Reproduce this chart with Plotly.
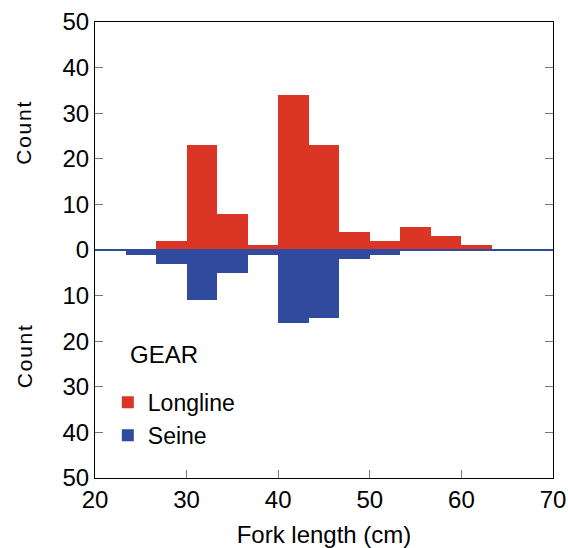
import plotly.graph_objects as go

bin_start = 70 / 3  # 23.33
bin_width = 10 / 3
longline = [0, 2, 23, 8, 1, 34, 23, 4, 2, 5, 3, 1]
seine = [1, 3, 11, 5, 1, 16, 15, 2, 1, 0, 0, 0]
centers = [bin_start + bin_width * (i + 0.5) for i in range(len(longline))]

y_ticks = [-50, -40, -30, -20, -10, 0, 10, 20, 30, 40, 50]
y_ticktext = [str(abs(v)) for v in y_ticks]
x_ticks = [20, 30, 40, 50, 60, 70]

RED = "#DB3625"
BLUE = "#304A9E"
FONT = "Liberation Sans, Arial, sans-serif"

fig = go.Figure()
fig.add_trace(go.Bar(x=centers, y=longline, width=bin_width, name="Longline",
                     marker=dict(color=RED, line=dict(width=0))))
fig.add_trace(go.Bar(x=centers, y=[-v for v in seine], width=bin_width, name="Seine",
                     marker=dict(color=BLUE, line=dict(width=0))))

fig.add_shape(type="line", xref="paper", yref="y", x0=0, x1=1, y0=0, y1=0,
              line=dict(color=BLUE, width=2), layer="above")

count_label = "\u200a".join("Count")
for yc in (25.5, -23.5):
    fig.add_annotation(text=count_label, xref="paper", yref="y", x=-0.155, y=yc,
                       xanchor="center", yanchor="middle", textangle=-90, showarrow=False,
                       font=dict(size=21, color="black", family=FONT))

fig.add_annotation(text="GEAR", xref="paper", yref="paper", x=0.072, y=0.27,
                   xanchor="left", yanchor="middle", showarrow=False,
                   font=dict(size=24, color="black", family=FONT))

fig.update_layout(
    width=568, height=548,
    margin=dict(l=95, r=15, t=22, b=70),
    paper_bgcolor="white", plot_bgcolor="white",
    barmode="overlay",
    bargap=0,
    font=dict(family=FONT, color="black", size=24),
    showlegend=True,
    legend=dict(
        x=0.028, y=0.213, xanchor="left", yanchor="top",
        bgcolor="rgba(0,0,0,0)", font=dict(size=23),
        itemsizing="constant", tracegroupgap=0,
    ),
    xaxis=dict(range=[20, 70], tickvals=x_ticks, ticks="inside", ticklen=8,
               tickcolor="#777", showline=True, linecolor="black", linewidth=1,
               mirror=True, showgrid=False, zeroline=False, automargin=False,
               tickfont=dict(size=24),
               title=dict(text="Fork length (cm)", font=dict(size=24), standoff=14)),
    yaxis=dict(range=[-50, 50], tickvals=y_ticks, ticktext=y_ticktext, ticks="inside",
               ticklen=8, tickcolor="#777", showline=True, linecolor="black", linewidth=1,
               mirror="ticks", showgrid=False, zeroline=False, automargin=False,
               tickfont=dict(size=24)),
)

fig.write_html("out.html")
